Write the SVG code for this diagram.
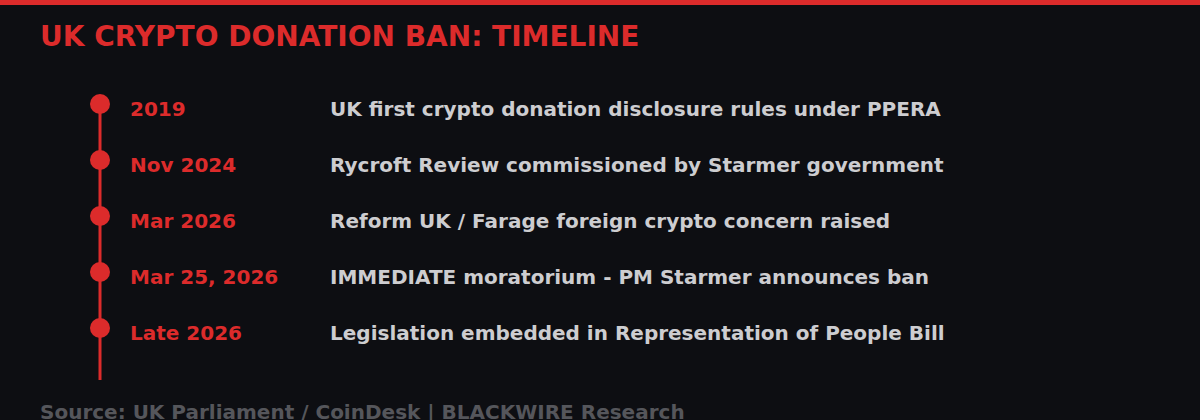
<svg xmlns="http://www.w3.org/2000/svg" width="1200" height="420" viewBox="0 0 1200 420">
<style>
.t{font-family:"DejaVu Sans",sans-serif;font-weight:bold}
.date{fill:#dc2b2b;font-size:20px}
.desc{fill:#cdcdd0;font-size:20px}
.dot{fill:#dc2b2b}
</style>
<rect width="1200" height="420" fill="#0d0e12"/>
<rect width="1200" height="5" fill="#dc2b2b"/>
<text class="t" x="40" y="46" font-size="28" fill="#dc2b2b">UK CRYPTO DONATION BAN: TIMELINE</text>
<g id="connectors"><line x1="100" y1="104" x2="100" y2="380" stroke="#dc2b2b" stroke-width="3"/></g>
<g id="e1"><circle class="dot" cx="100" cy="104" r="10"/><text class="t date" x="130" y="116">2019</text><text class="t desc" x="330" y="116">UK first crypto donation disclosure rules under PPERA</text></g>
<g id="e2"><circle class="dot" cx="100" cy="160" r="10"/><text class="t date" x="130" y="172">Nov 2024</text><text class="t desc" x="330" y="172">Rycroft Review commissioned by Starmer government</text></g>
<g id="e3"><circle class="dot" cx="100" cy="216" r="10"/><text class="t date" x="130" y="228">Mar 2026</text><text class="t desc" x="330" y="228">Reform UK / Farage foreign crypto concern raised</text></g>
<g id="e4"><circle class="dot" cx="100" cy="272" r="10"/><text class="t date" x="130" y="284">Mar 25, 2026</text><text class="t desc" x="330" y="284">IMMEDIATE moratorium - PM Starmer announces ban</text></g>
<g id="e5"><circle class="dot" cx="100" cy="328" r="10"/><text class="t date" x="130" y="340">Late 2026</text><text class="t desc" x="330" y="340">Legislation embedded in Representation of People Bill</text></g>
<text class="t" x="40" y="419" font-size="20" fill="#55565b">Source: UK Parliament / CoinDesk | BLACKWIRE Research</text>
</svg>
